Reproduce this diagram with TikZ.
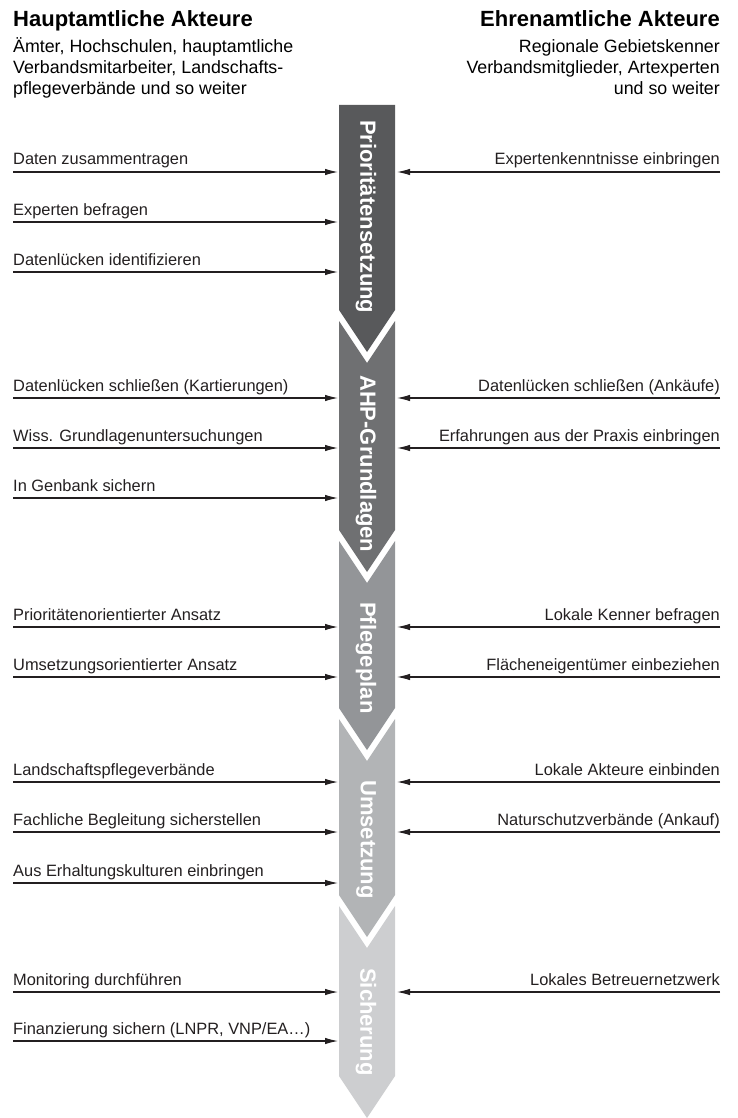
\documentclass[tikz,border=0pt]{standalone}
\usepackage{fontspec}
\setmainfont{Liberation Sans}
\usetikzlibrary{arrows.meta}

% stage colours, dark to light
\definecolor{stageA}{RGB}{88,89,91}
\definecolor{stageB}{RGB}{111,112,114}
\definecolor{stageC}{RGB}{147,149,152}
\definecolor{stageD}{RGB}{178,180,182}
\definecolor{stageE}{RGB}{205,206,208}
\definecolor{lineclr}{RGB}{35,31,32}

\tikzset{
  headtxt/.style={font=\fontsize{22}{24}\selectfont\bfseries, inner sep=0pt},
  subtxt/.style={font=\fontsize{17.8}{21}\selectfont, inner sep=0pt},
  lbl/.style={font=\fontsize{16.4}{19}\selectfont, inner sep=0pt, text=lineclr},
  stagetxt/.style={font=\fontsize{22}{24}\selectfont\bfseries, text=white,
    rotate=-90, anchor=west, inner sep=0pt},
  feed/.style={-{Latex[length=13pt,width=6.5pt]}, line width=1.1pt, draw=lineclr},
}

\begin{document}
\begin{tikzpicture}[x=1pt, y=-1pt]
  \useasboundingbox (0,0) rectangle (738,1118);

  % column geometry
  \def\xl{339}
  \def\xr{395}
  \def\xm{367}
  \def\tip{42}

  % the five stages: top / bottom / colour / text / text start
  \foreach \ya/\yb/\col/\stage/\ty [count=\i] in {
      105/310/stageA/Prioritätensetzung/120,
      321/530/stageB/AHP-Grundlagen/375,
      541/708/stageC/Pflegeplan/602,
      719/895/stageD/Umsetzung/780,
      906/1076/stageE/Sicherung/968} {
    % first stage has a flat top, the others a notch
    \pgfmathsetmacro{\notch}{\i==1 ? 0 : \tip}
    \fill[\col] (\xl,\ya) -- (\xm,\ya+\notch) -- (\xr,\ya) -- (\xr,\yb)
      -- (\xm,\yb+\tip) -- (\xl,\yb) -- cycle;
    \node[stagetxt] (S\i) at (\xm-1,\ty) {\stage};
  }

  % headers
  \node[headtxt, anchor=base west] (hauptHead) at (13,27) {Hauptamtliche Akteure};
  \node[headtxt, anchor=base east] (ehrenHead) at (720,27) {Ehrenamtliche Akteure};
  \foreach \txt [count=\i] in {{Ämter, Hochschulen, hauptamtliche},
      {Verbandsmitarbeiter, Landschafts-}, {pflegeverbände und so weiter}} {
    \node[subtxt, anchor=base west] (hauptSub\i) at (13,32+21*\i) {\txt};
  }
  \foreach \txt [count=\i] in {{Regionale Gebietskenner},
      {Verbandsmitglieder, Artexperten}, {und so weiter}} {
    \node[subtxt, anchor=base east] (ehrenSub\i) at (720,32+21*\i) {\txt};
  }

  % contributions of the full-time actors
  \foreach \y/\txt [count=\i] in {
      172/{Daten zusammentragen},
      222/{Experten befragen},
      272/{Datenlücken identifizieren},
      398/{Datenlücken schließen (Kartierungen)},
      448/{Wiss. Grundlagenuntersuchungen},
      498/{In Genbank sichern},
      627/{Prioritätenorientierter Ansatz},
      677/{Umsetzungsorientierter Ansatz},
      782/{Landschaftspflegeverbände},
      832/{Fachliche Begleitung sicherstellen},
      883/{Aus Erhaltungskulturen einbringen},
      992/{Monitoring durchführen},
      1041/{Finanzierung sichern (LNPR, VNP/EA…)}} {
    \coordinate (hl\i) at (13,\y);
    \coordinate (hr\i) at (\xl-1,\y);
    \draw[feed] (hl\i) -- (hr\i);
    \node[lbl, anchor=base west] (hlt\i) at (13,\y-7) {\txt};
  }

  % contributions of the volunteers
  \foreach \y/\txt [count=\i] in {
      172/{Expertenkenntnisse einbringen},
      398/{Datenlücken schließen (Ankäufe)},
      448/{Erfahrungen aus der Praxis einbringen},
      627/{Lokale Kenner befragen},
      677/{Flächeneigentümer einbeziehen},
      782/{Lokale Akteure einbinden},
      832/{Naturschutzverbände (Ankauf)},
      992/{Lokales Betreuernetzwerk}} {
    \coordinate (el\i) at (720,\y);
    \coordinate (er\i) at (\xr+2,\y);
    \draw[feed] (el\i) -- (er\i);
    \node[lbl, anchor=base east] (elt\i) at (720,\y-7) {\txt};
  }
\end{tikzpicture}
\end{document}
